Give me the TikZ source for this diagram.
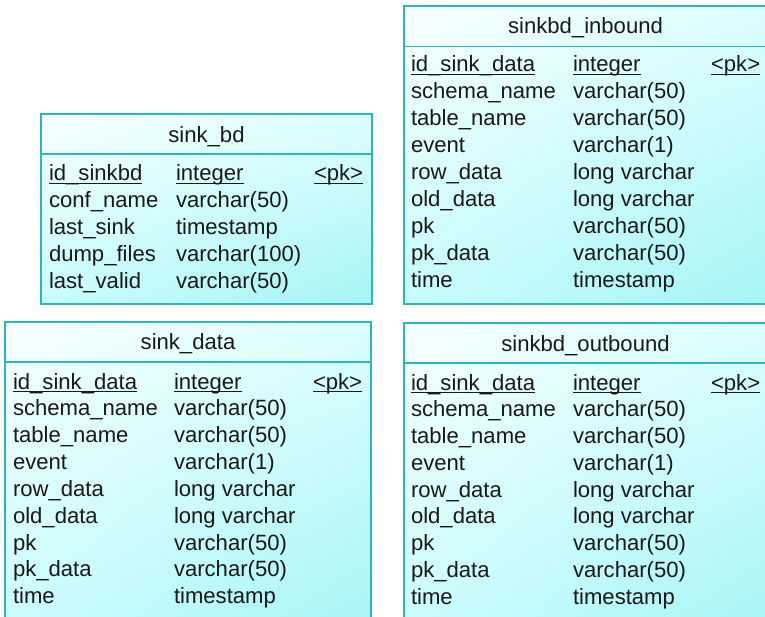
\documentclass[tikz,border=0pt]{standalone}
\usepackage{fontspec}
\setmainfont{Liberation Sans}
\usetikzlibrary{shadings}
\definecolor{tblborder}{RGB}{44,182,182}
\definecolor{shUL}{RGB}{248,255,255}
\definecolor{shUR}{RGB}{220,254,254}
\definecolor{shLL}{RGB}{200,252,252}
\definecolor{shLR}{RGB}{166,244,244}
\newcommand{\ulx}[1]{\setbox0\hbox{#1}\rlap{\rule[-3.2pt]{\wd0}{1.2pt}}\box0}
\begin{document}
\begin{tikzpicture}[x=1pt,y=-1pt,
  every node/.style={inner sep=0pt, outer sep=0pt, font=\fontsize{22.1}{26}\selectfont, text=black!90},
  tblfill/.style={upper left=shUL, upper right=shUR, lower left=shLL, lower right=shLR},
  tblline/.style={draw=tblborder, line width=1.4pt},
  cell/.style={anchor=base west}]
\useasboundingbox (0,0) rectangle (765,617);

% ---------- sink_bd ----------
\shade[tblfill] (41,114) rectangle (372,304);
\draw[tblline] (41,114) rectangle (372,304);
\draw[tblline] (41,154) -- (372,154);
\node[anchor=base] (bd-title) at (206.5,143) {sink\_bd};
\node[cell] (bd-n0) at (49,181) {\ulx{id\_sinkbd}};
\node[cell] (bd-t0) at (176,181) {\ulx{integer}};
\node[cell] (bd-k0) at (314,181) {\ulx{\textless pk\textgreater}};
\foreach \n/\t [count=\i] in {conf\_name/varchar(50), last\_sink/timestamp, dump\_files/varchar(100), last\_valid/varchar(50)}{
  \node[cell] (bd-n\i) at (49,181+27*\i) {\n};
  \node[cell] (bd-t\i) at (176,181+27*\i) {\t};
}

% ---------- sinkbd_inbound ----------
\shade[tblfill] (404,6) rectangle (767,304);
\draw[tblline] (404,6) rectangle (767,304);
\draw[tblline] (404,46.5) -- (767,46.5);
\node[anchor=base] (ib-title) at (585.5,34) {sinkbd\_inbound};
\node[cell] (ib-n0) at (411,72) {\ulx{id\_sink\_data}};
\node[cell] (ib-t0) at (573,72) {\ulx{integer}};
\node[cell] (ib-k0) at (711,72) {\ulx{\textless pk\textgreater}};
\foreach \n/\t [count=\i] in {schema\_name/varchar(50), table\_name/varchar(50), event/varchar(1), row\_data/long varchar, old\_data/long varchar, pk/varchar(50), pk\_data/varchar(50), time/timestamp}{
  \node[cell] (ib-n\i) at (411,72+27*\i) {\n};
  \node[cell] (ib-t\i) at (573,72+27*\i) {\t};
}

% ---------- sink_data ----------
\shade[tblfill] (5,322) rectangle (371,640);
\draw[tblline] (5,322) rectangle (371,640);
\draw[tblline] (5,362) -- (371,362);
\node[anchor=base] (sd-title) at (188,349) {sink\_data};
\node[cell] (sd-n0) at (13,389) {\ulx{id\_sink\_data}};
\node[cell] (sd-t0) at (174,389) {\ulx{integer}};
\node[cell] (sd-k0) at (313,389) {\ulx{\textless pk\textgreater}};
\foreach \n/\t [count=\i] in {schema\_name/varchar(50), table\_name/varchar(50), event/varchar(1), row\_data/long varchar, old\_data/long varchar, pk/varchar(50), pk\_data/varchar(50), time/timestamp}{
  \node[cell] (sd-n\i) at (13,389+26.85*\i) {\n};
  \node[cell] (sd-t\i) at (174,389+26.85*\i) {\t};
}

% ---------- sinkbd_outbound ----------
\shade[tblfill] (404,323) rectangle (767,640);
\draw[tblline] (404,323) rectangle (767,640);
\draw[tblline] (404,363) -- (767,363);
\node[anchor=base] (ob-title) at (585.5,352) {sinkbd\_outbound};
\node[cell] (ob-n0) at (411,390) {\ulx{id\_sink\_data}};
\node[cell] (ob-t0) at (573,390) {\ulx{integer}};
\node[cell] (ob-k0) at (711,390) {\ulx{\textless pk\textgreater}};
\foreach \n/\t [count=\i] in {schema\_name/varchar(50), table\_name/varchar(50), event/varchar(1), row\_data/long varchar, old\_data/long varchar, pk/varchar(50), pk\_data/varchar(50), time/timestamp}{
  \node[cell] (ob-n\i) at (411,390+26.75*\i) {\n};
  \node[cell] (ob-t\i) at (573,390+26.75*\i) {\t};
}
\end{tikzpicture}
\end{document}
